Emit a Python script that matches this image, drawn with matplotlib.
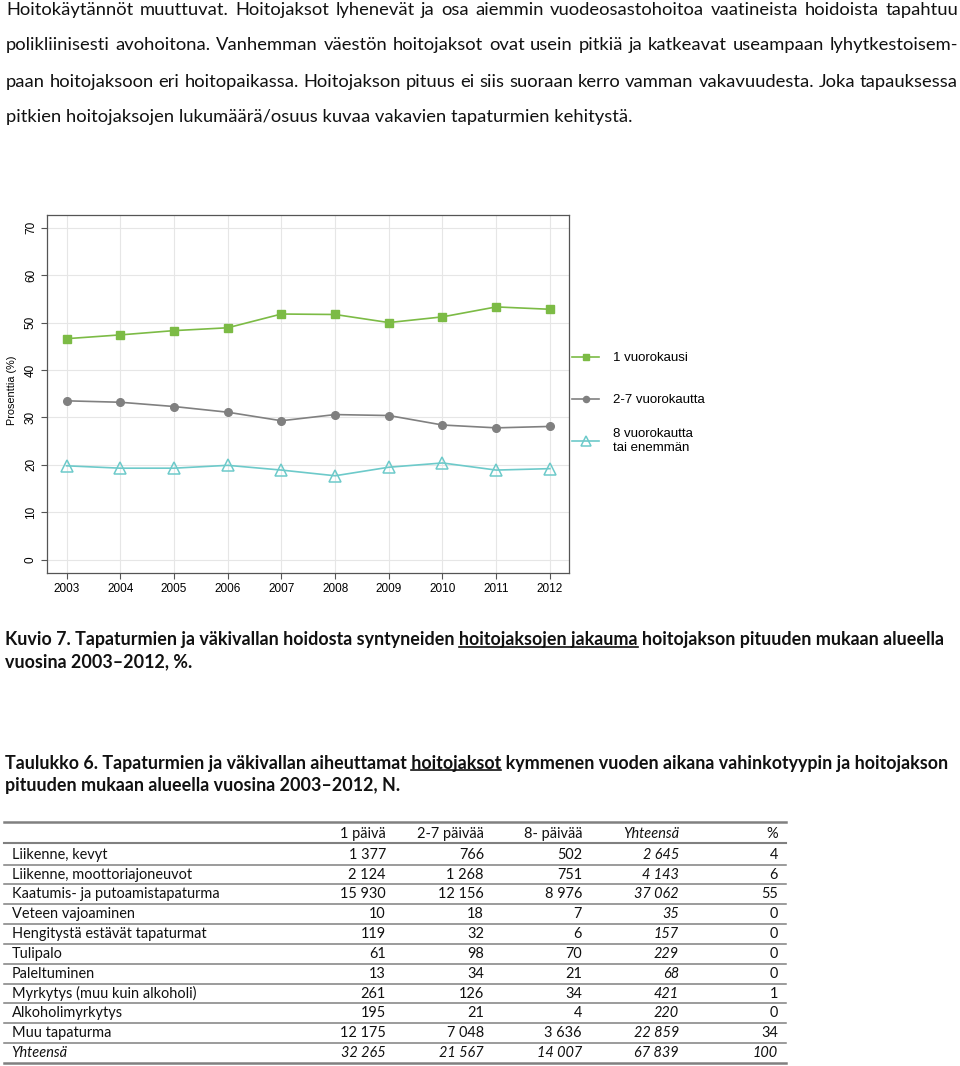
import matplotlib
matplotlib.use('Agg')
import matplotlib.pyplot as plt
from matplotlib.lines import Line2D
from matplotlib.legend import Legend

# chart data (percent of care periods by length)
years = [2003, 2004, 2005, 2006, 2007, 2008, 2009, 2010, 2011, 2012]
one_day = [46.6, 47.4, 48.3, 48.9, 51.8, 51.7, 50.0, 51.2, 53.3, 52.8]
two_seven = [33.5, 33.2, 32.3, 31.1, 29.3, 30.6, 30.4, 28.4, 27.8, 28.1]
eight_plus = [19.8, 19.3, 19.3, 19.9, 18.9, 17.7, 19.5, 20.4, 18.9, 19.2]
series_labels = ['1 vuorokausi', '2-7 vuorokautta', '8 vuorokautta\ntai enemmän']
y_ticks = [0, 10, 20, 30, 40, 50, 60, 70]

intro_lines = [
    "Hoitokäytännöt muuttuvat. Hoitojaksot lyhenevät ja osa aiemmin vuodeosastohoitoa vaatineista hoidoista tapahtuu",
    "polikliinisesti avohoitona. Vanhemman väestön hoitojaksot ovat usein pitkiä ja katkeavat useampaan lyhytkestoisem-",
    "paan hoitojaksoon eri hoitopaikassa. Hoitojakson pituus ei siis suoraan kerro vamman vakavuudesta. Joka tapauksessa",
    "pitkien hoitojaksojen lukumäärä/osuus kuvaa vakavien tapaturmien kehitystä.",
]
fig_caption = ("Kuvio 7. Tapaturmien ja väkivallan hoidosta syntyneiden ", "hoitojaksojen jakauma",
               " hoitojakson pituuden mukaan alueella", "vuosina 2003–2012, %.")
tab_caption = ("Taulukko 6. Tapaturmien ja väkivallan aiheuttamat ", "hoitojaksot",
               " kymmenen vuoden aikana vahinkotyypin ja hoitojakson", "pituuden mukaan alueella vuosina 2003–2012, N.")

# table data
tab_header = ['1 päivä', '2-7 päivää', '8- päivää', 'Yhteensä', '%']
tab_rows = ['Liikenne, kevyt', 'Liikenne, moottoriajoneuvot', 'Kaatumis- ja putoamistapaturma',
            'Veteen vajoaminen', 'Hengitystä estävät tapaturmat', 'Tulipalo', 'Paleltuminen',
            'Myrkytys (muu kuin alkoholi)', 'Alkoholimyrkytys', 'Muu tapaturma']
col_1day = [1377, 2124, 15930, 10, 119, 61, 13, 261, 195, 12175]
col_2_7 = [766, 1268, 12156, 18, 32, 98, 34, 126, 21, 7048]
col_8 = [502, 751, 8976, 7, 6, 70, 21, 34, 4, 3636]
col_total = [2645, 4143, 37062, 35, 157, 229, 68, 421, 220, 22859]
col_pct = [4, 6, 55, 0, 0, 0, 0, 1, 0, 34]
total_row = ['Yhteensä', 32265, 21567, 14007, 67839, 100]

W, H = 960, 1066
fig = plt.figure(figsize=(W / 100, H / 100), dpi=100)
renderer = fig.canvas.get_renderer()
TXT = ['Lato', 'DejaVu Sans']
ARIAL = ['Liberation Sans', 'DejaVu Sans']


def fx(x):
    return x / W


def fy(y):
    return 1 - y / H


def width(s, **kw):
    t = fig.text(0, 0, s, **kw)
    w = t.get_window_extent(renderer).width
    t.remove()
    return w


def fmt(n):
    return f"{n:,}".replace(",", " ")


# ---- intro paragraph (justified) ----
fs_intro = 12 * 623 / width(intro_lines[3], fontsize=12, family=TXT)
intro_y = [10, 45, 82, 117]
for i, line in enumerate(intro_lines):
    if i < 3:
        words = line.split(' ')
        ws = [width(w_, fontsize=fs_intro, family=TXT) for w_ in words]
        gap = (958 - 6 - sum(ws)) / (len(words) - 1)
        x = 6
        for w_, wd in zip(words, ws):
            fig.text(fx(x), fy(intro_y[i]), w_, fontsize=fs_intro, family=TXT, va='center', color='#111111')
            x += wd + gap
    else:
        fig.text(fx(6), fy(intro_y[i]), line, fontsize=fs_intro, family=TXT, va='center', color='#111111')


# ---- captions with underlined part ----
def caption(parts, y1, y2):
    pre, und, post, line2 = parts
    kw = dict(family=TXT, fontweight='bold')
    fs = 12 * 932 / width(pre + und + post, fontsize=12, **kw)
    kw['fontsize'] = fs
    t = fig.text(fx(5), fy(y1), pre + und + post, va='center', color='#111111', **kw)
    end = width(pre + und, **kw)
    start = end - width(und, **kw)
    bb = t.get_window_extent(renderer)
    uy = (bb.y0 + 2) / H
    fig.add_artist(Line2D([fx(5 + start), fx(5 + end)], [uy, uy], color='#111111', lw=1.2))
    fig.text(fx(5), fy(y2), line2, va='center', color='#111111', **kw)


caption(fig_caption, 640, 662)
caption(tab_caption, 763, 786)

# ---- line chart ----
ax_top, ax_bot = 214.7, 573
ax = fig.add_axes([fx(46.7), fy(ax_bot), (568.7 - 46.7) / W, (ax_bot - ax_top) / H])
l1, = ax.plot(years, one_day, color='#7cbb45', lw=1.2, marker='s', ms=6)
l2, = ax.plot(years, two_seven, color='#808080', lw=1.2, marker='o', ms=5.5)
l3, = ax.plot(years, eight_plus, color='#6dcaca', lw=1.2, marker='^', ms=9, mfc='none', mew=1.1)
ax.set_xlim(2002.63, 2012.35)
ax.set_ylim(-2.8, 72.74)
ax.set_xticks(years)
ax.set_yticks(y_ticks)
ax.grid(True, color='#e6e6e6', lw=0.8)
ax.set_axisbelow(True)
for sp in ax.spines.values():
    sp.set_color('#555555')
    sp.set_linewidth(0.9)
ax.tick_params(axis='both', color='#555555', length=4, width=0.8, labelsize=8.5, pad=3)
ax.tick_params(axis='y', labelrotation=90)
for lbl in ax.get_yticklabels():
    lbl.set_va('center')
    lbl.set_family(ARIAL)
for lbl in ax.get_xticklabels():
    lbl.set_family(ARIAL)
ax.set_ylabel('Prosenttia (%)', fontsize=7.8, family=ARIAL, va='center')
ax.yaxis.set_label_coords(-0.067, 0.51)

# one legend per entry so each sits at its own height
leg_y = [358, 400, 441]
for k, (h, lab) in enumerate(zip([l1, l2, l3], series_labels)):
    leg = Legend(ax, [h], [lab], loc='center left',
                 bbox_to_anchor=(1.0, (ax_bot - leg_y[k]) / (ax_bot - ax_top)),
                 frameon=False, prop={'family': ARIAL, 'size': 9.5}, handlelength=2.05,
                 handletextpad=1.05, borderaxespad=0.0, borderpad=0.25)
    for lh in leg.legend_handles:
        lh.set_markersize(lh.get_markersize() * 0.8)
    ax.add_artist(leg)

# ---- table ----
row_y0 = 854.7
row_h = 19.83
col_right = [386, 484, 582, 679, 778]
fs_tab = 12 * 206 / width(tab_rows[2], fontsize=12, family=TXT)
kw = dict(fontsize=fs_tab, family=TXT, va='center', color='#111111')


def hline(y, lw):
    fig.add_artist(Line2D([fx(4), fx(786)], [fy(y), fy(y)], color='#808080', lw=lw))


hline(822, 1.8)
hline(843, 1.5)
for j, h in enumerate(tab_header):
    fig.text(fx(col_right[j]), fy(834), h, ha='right', style='italic' if h == 'Yhteensä' else 'normal', **kw)
for i, name in enumerate(tab_rows):
    y = row_y0 + i * row_h
    fig.text(fx(11.5), fy(y), name, **kw)
    vals = [col_1day[i], col_2_7[i], col_8[i], col_total[i], col_pct[i]]
    for j, v in enumerate(vals):
        fig.text(fx(col_right[j]), fy(y), fmt(v), ha='right', style='italic' if j == 3 else 'normal', **kw)
    hline(y + row_h / 2, 1.1)
y = row_y0 + len(tab_rows) * row_h
fig.text(fx(11.5), fy(y), total_row[0], style='italic', **kw)
for j, v in enumerate(total_row[1:]):
    fig.text(fx(col_right[j]), fy(y), fmt(v), ha='right', style='italic', **kw)
hline(1062.5, 1.8)

fig.savefig('out.png', dpi=100)
